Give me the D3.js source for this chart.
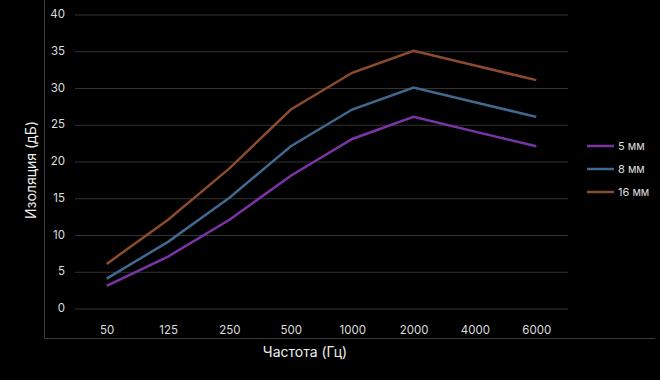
<!DOCTYPE html>
<html><head><meta charset="utf-8">
<script src="https://cdn.jsdelivr.net/npm/d3@7"></script>
<style>html,body{margin:0;padding:0;background:#000;}svg{display:block;font-family:Inter,"Open Sans",sans-serif;}</style>
</head><body>
<svg id="c" width="660" height="380"></svg>
<script>
const categories = ["50","125","250","500","1000","2000","4000","6000"];
const seriesNames = ["5 мм","8 мм","16 мм"];
const s5 = [3,7,12,18,23,26,24,22];
const s8 = [4,9,15,22,27,30,28,26];
const s16 = [6,12,19,27,32,35,33,31];
const yTicks = [0,5,10,15,20,25,30,35,40];
const colors = ["#7b33a8","#41698f","#8c4b2c"];
const series = [s5,s8,s16];

const svg = d3.select("#c");
svg.append("rect").attr("width",660).attr("height",380).attr("fill","#000");
const x = d3.scalePoint().domain(categories).range([76,567]).padding(0.5);
const y = d3.scaleLinear().domain([0,40]).range([308,14]);

// frame
svg.append("line").attr("x1",44.5).attr("x2",44.5).attr("y1",0).attr("y2",338.5).attr("stroke","#3a3a3a");
svg.append("line").attr("x1",44).attr("x2",655).attr("y1",338.5).attr("y2",338.5).attr("stroke","#3a3a3a");

// grid
const ga = svg.append("g").attr("transform","translate(75,0)")
  .call(d3.axisLeft(y).tickValues(yTicks).tickSize(-493).tickPadding(10));
ga.select(".domain").remove();
ga.selectAll(".tick line").attr("stroke","#333").attr("transform","translate(0,0.5)");
ga.selectAll(".tick text").attr("fill","#ddd").attr("font-size",11.5).attr("font-family","Inter,sans-serif");

const xa = svg.append("g").attr("transform","translate(0,308)")
  .call(d3.axisBottom(x).tickSize(0).tickPadding(18));
xa.select(".domain").remove();
xa.selectAll(".tick text").attr("fill","#ddd").attr("font-size",11.5).attr("font-family","Inter,sans-serif");

const line = d3.line().x((d,i)=>x(categories[i])).y(d=>y(d));
series.forEach((s,k)=>{
  svg.append("path").datum(s).attr("d",line).attr("fill","none")
    .attr("stroke",colors[k]).attr("stroke-width",2.5).attr("stroke-linejoin","miter");
});

// legend
const ly = [146,169,192];
seriesNames.forEach((n,k)=>{
  svg.append("line").attr("x1",587).attr("x2",614).attr("y1",ly[k]).attr("y2",ly[k])
    .attr("stroke",colors[k]).attr("stroke-width",2.5);
  svg.append("text").attr("x",618).attr("y",ly[k]).attr("dy","0.35em")
    .attr("fill","#ddd").attr("font-size",11).text(n);
});

// titles
svg.append("text").attr("x",305).attr("y",352).attr("dy","0.35em").attr("text-anchor","middle")
  .attr("fill","#eee").attr("font-size",14).text("Частота (Гц)");
svg.append("text").attr("transform","translate(31,170) rotate(-90)").attr("dy","0.35em")
  .attr("text-anchor","middle").attr("fill","#eee").attr("font-size",14).text("Изоляция (дБ)");
</script>
</body></html>
